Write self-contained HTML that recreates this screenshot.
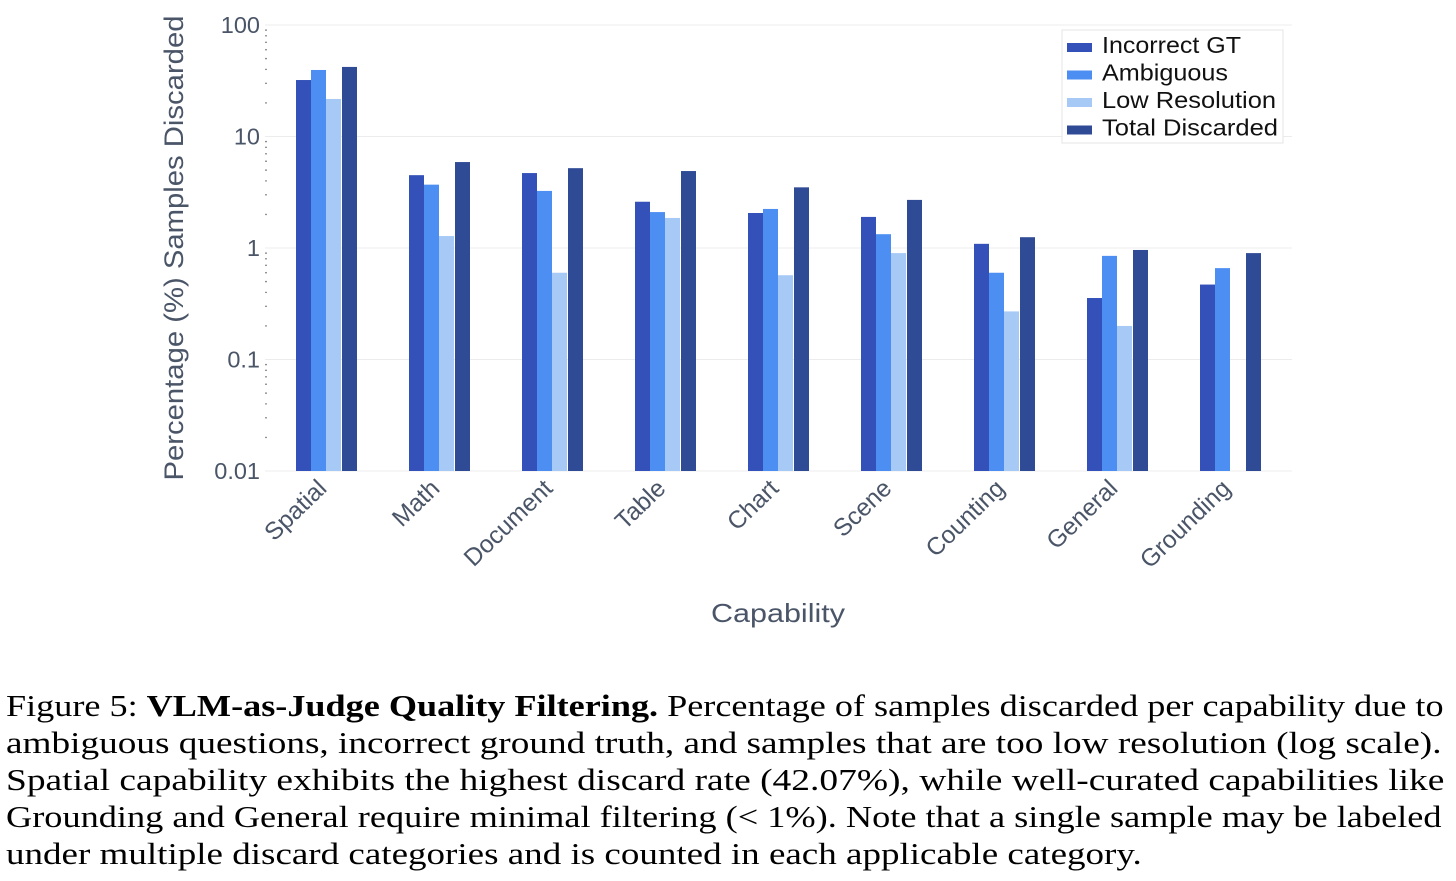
<!DOCTYPE html>
<html><head><meta charset="utf-8"><style>
body{margin:0;background:#fff;width:1456px;height:881px;overflow:hidden;}
svg{position:absolute;left:0;top:0}
.cap{position:absolute;left:6px;top:688px;width:1445px;font-family:"Liberation Serif",serif;font-size:30.5px;line-height:37px;color:#000;white-space:nowrap}
.cap span{display:block;transform-origin:0 0}
</style></head><body>
<svg id="chart" width="1456" height="660"></svg>
<div class="cap">
<span style="transform:scaleX(1.186)">Figure 5: <b>VLM-as-Judge Quality Filtering.</b> Percentage of samples discarded per capability due to</span>
<span style="transform:scaleX(1.221)">ambiguous questions, incorrect ground truth, and samples that are too low resolution (log scale).</span>
<span style="transform:scaleX(1.228)">Spatial capability exhibits the highest discard rate (42.07%), while well-curated capabilities like</span>
<span style="transform:scaleX(1.19)">Grounding and General require minimal filtering (&lt; 1%). Note that a single sample may be labeled</span>
<span style="transform:scaleX(1.214)">under multiple discard categories and is counted in each applicable category.</span>
</div>
<script>
const categories=["Spatial","Math","Document","Table","Chart","Scene","Counting","General","Grounding"];
const incorrectGT=[32.1,4.5,4.7,2.6,2.06,1.9,1.09,0.356,0.47];
const ambiguous=[39.5,3.7,3.25,2.1,2.24,1.33,0.6,0.85,0.66];
const lowRes=[21.7,1.28,0.6,1.86,0.57,0.9,0.27,0.2,null];
const totalDiscarded=[42.07,5.9,5.2,4.9,3.5,2.7,1.25,0.96,0.9];
const seriesNames=["Incorrect GT","Ambiguous","Low Resolution","Total Discarded"];
const tickVals=[0.01,0.1,1,10,100];
const tickLabels=["0.01","0.1","1","10","100"];
const colors=["#3451b9","#4d8ef2","#a6c9f6","#2f4b95"];
const legendW=[139,126,174,176];
const NS="http://www.w3.org/2000/svg";
const svg=document.getElementById("chart");
const y0=471,y1=25,x0=265,x1=1292;
const y=v=>y0-(Math.log10(v)-(-2))/4*(y0-y1);
const gx=i=>296+i*113;
function el(t,a,txt){const e=document.createElementNS(NS,t);for(const k in a)e.setAttribute(k,a[k]);if(txt!=null)e.textContent=txt;svg.appendChild(e);return e;}
const font='"Liberation Sans",sans-serif';
tickVals.forEach((v,i)=>{
  const g=el("line",{x1:x0,x2:x1,y1:y(v),y2:y(v),stroke:"#ececec","stroke-width":1});
  
  
  const t=el("text",{x:x0-5,y:y(v)+8,"text-anchor":"end","font-family":font,"font-size":23.5,fill:"#4a5568"},tickLabels[i]);
  
  
  if(i<4){for(let m=2;m<=9;m++){const d=el("circle",{cx:x0+1,cy:y(v*m),r:0.8,fill:"#666"});
    
    }}
});
const series=[incorrectGT,ambiguous,lowRes,totalDiscarded];
const offs=[0,15,30,46];
categories.forEach((c,i)=>{
  series.forEach((s,j)=>{
    if(s[i]==null)return;
    const r=el("rect",{x:gx(i)+offs[j],y:y(s[i]),width:15,height:y0-y(s[i]),fill:colors[j]});
    
    
  });
  const cx=gx(i)+32;
  const t=el("text",{x:cx,y:490,"text-anchor":"end","font-family":font,"font-size":24.5,fill:"#4a5568",transform:`rotate(-44 ${cx} 490)`},c);
  
  
});
const yt=el("text",{x:0,y:0,"text-anchor":"middle","font-family":font,"font-size":27,fill:"#4a5568",textLength:465,lengthAdjust:"spacingAndGlyphs",transform:"translate(183 248) rotate(-90)"},"Percentage (%) Samples Discarded");


const xt=el("text",{x:711,y:622,"font-family":font,"font-size":26,fill:"#4a5568",textLength:134,lengthAdjust:"spacingAndGlyphs"},"Capability");


const lg=el("rect",{x:1062,y:30,width:221,height:113,fill:"#fff",stroke:"#e4e4e4"});


seriesNames.forEach((n,j)=>{
  const r=el("rect",{x:1067,y:43+j*27.5,width:25,height:9,fill:colors[j]});
  
  
  const t=el("text",{x:1102,y:53+j*27.5,"font-family":font,"font-size":23,fill:"#111",textLength:legendW[j],lengthAdjust:"spacingAndGlyphs"},n);
  
  
});
</script>
</body></html>
